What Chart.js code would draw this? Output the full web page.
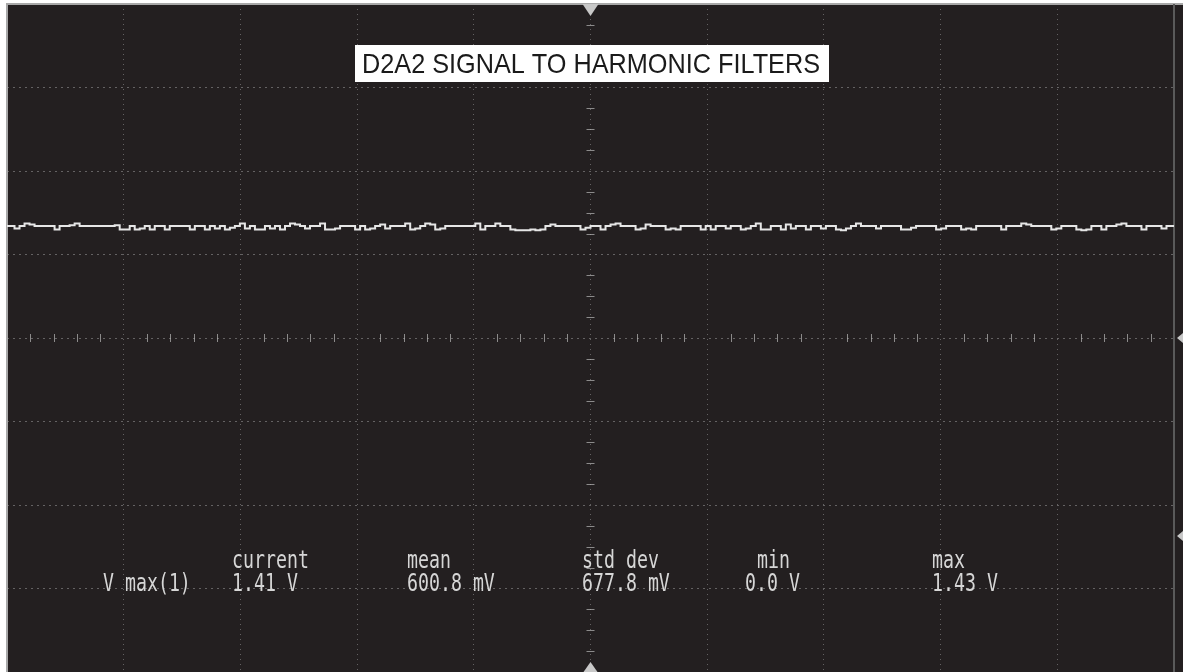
<!DOCTYPE html>
<html>
<head>
<meta charset="utf-8">
<script src="https://cdn.jsdelivr.net/npm/chart.js@4"></script>
<style>
  html, body { margin: 0; padding: 0; background: #ffffff; }
  #wrap { width: 1183px; height: 672px; }
</style>
</head>
<body>
<div id="wrap"><canvas id="scope" width="1183" height="672"></canvas></div>
<script>
// trace samples (divisions above centre), evenly spaced across 10 horizontal divisions
const traceY = [
  1.34, 1.34, 1.31, 1.34, 1.37, 1.36, 1.34, 1.34, 1.34, 1.34,
  1.30, 1.34, 1.34, 1.35, 1.37, 1.34, 1.34, 1.34, 1.34, 1.34,
  1.34, 1.34, 1.35, 1.30, 1.30, 1.34, 1.30, 1.31, 1.34, 1.30,
  1.34, 1.34, 1.30, 1.34, 1.34, 1.34, 1.34, 1.30, 1.34, 1.34,
  1.30, 1.34, 1.31, 1.34, 1.30, 1.32, 1.34, 1.37, 1.31, 1.34,
  1.30, 1.30, 1.34, 1.31, 1.34, 1.30, 1.34, 1.37, 1.36, 1.34,
  1.31, 1.34, 1.34, 1.37, 1.30, 1.30, 1.31, 1.34, 1.34, 1.34,
  1.30, 1.34, 1.30, 1.31, 1.34, 1.36, 1.31, 1.34, 1.34, 1.34,
  1.37, 1.30, 1.31, 1.34, 1.37, 1.36, 1.30, 1.31, 1.34, 1.34,
  1.34, 1.34, 1.34, 1.34, 1.37, 1.30, 1.34, 1.34, 1.37, 1.34,
  1.34, 1.30, 1.29, 1.29, 1.29, 1.30, 1.29, 1.30, 1.34, 1.36,
  1.34, 1.34, 1.34, 1.34, 1.34, 1.30, 1.32, 1.34, 1.34, 1.30,
  1.34, 1.36, 1.37, 1.34, 1.34, 1.34, 1.30, 1.31, 1.36, 1.34,
  1.34, 1.34, 1.30, 1.31, 1.30, 1.34, 1.34, 1.34, 1.34, 1.30,
  1.34, 1.30, 1.34, 1.34, 1.31, 1.34, 1.34, 1.30, 1.31, 1.34,
  1.37, 1.30, 1.30, 1.34, 1.34, 1.30, 1.36, 1.31, 1.34, 1.34,
  1.30, 1.34, 1.34, 1.31, 1.34, 1.34, 1.30, 1.29, 1.31, 1.34,
  1.37, 1.34, 1.34, 1.34, 1.31, 1.34, 1.34, 1.34, 1.34, 1.30,
  1.30, 1.32, 1.34, 1.34, 1.34, 1.34, 1.30, 1.31, 1.34, 1.34,
  1.34, 1.30, 1.31, 1.30, 1.34, 1.34, 1.34, 1.34, 1.34, 1.30,
  1.34, 1.34, 1.34, 1.37, 1.36, 1.34, 1.34, 1.34, 1.34, 1.30,
  1.31, 1.34, 1.34, 1.34, 1.30, 1.29, 1.30, 1.34, 1.34, 1.30,
  1.34, 1.34, 1.36, 1.37, 1.34, 1.34, 1.34, 1.30, 1.34, 1.34,
  1.34, 1.31, 1.34, 1.34
];

const titleText = 'D2A2 SIGNAL TO HARMONIC FILTERS';
const statLabel = 'V max(1)';
const statNames = ['current', 'mean', 'std dev', 'min', 'max'];
const statValues = ['1.41 V', '600.8 mV', '677.8 mV', '0.0 V', '1.43 V'];

// level markers on the right edge (divisions)
const levelMarkers = [0, -2.37];

const H_DIVS = 10;
const V_DIVS = 8;

const tracePoints = traceY.map((v, i) => ({ x: i * H_DIVS / (traceY.length - 1), y: v }));

const BG = '#231f20';
const GRID = 'rgba(165,165,165,0.5)';
const TEXT = '#d6d6d6';

const scopePlugin = {
  id: 'scopeDeco',
  beforeDraw(chart) {
    const ctx = chart.ctx;
    ctx.save();
    ctx.fillStyle = BG;
    ctx.fillRect(6, 4, chart.width - 6, chart.height - 4);
    ctx.restore();
  },
  beforeDatasetsDraw(chart) {
    const ctx = chart.ctx;
    const xs = chart.scales.x, ys = chart.scales.y;
    const a = chart.chartArea;
    const cx = xs.getPixelForValue(H_DIVS / 2);
    const cy = ys.getPixelForValue(0);
    ctx.save();
    ctx.strokeStyle = 'rgba(185,185,185,0.7)';
    ctx.lineWidth = 1;
    ctx.beginPath();
    // minor ticks on the centre vertical line
    for (let v = -V_DIVS / 2; v <= V_DIVS / 2; v += 0.25) {
      if (Number.isInteger(v)) continue;
      const y = Math.round(ys.getPixelForValue(v)) + 0.5;
      ctx.moveTo(cx - 4, y); ctx.lineTo(cx + 4, y);
    }
    // minor ticks on the centre horizontal line
    for (let v = 0; v <= H_DIVS; v += 0.2) {
      const r = Math.round(v * 10) / 10;
      if (Number.isInteger(r)) continue;
      const x = Math.round(xs.getPixelForValue(r)) + 0.5;
      ctx.moveTo(x, cy - 4); ctx.lineTo(x, cy + 4);
    }
    ctx.stroke();

    // frame
    ctx.strokeStyle = '#a8a8a8';
    ctx.lineWidth = 2;
    ctx.beginPath();
    ctx.moveTo(a.left, chart.height); ctx.lineTo(a.left, a.top); ctx.lineTo(chart.width, a.top);
    ctx.stroke();
    ctx.strokeStyle = '#5a5a5a';
    ctx.lineWidth = 2;
    ctx.beginPath();
    ctx.moveTo(a.right, a.top); ctx.lineTo(a.right, chart.height);
    ctx.stroke();
    ctx.restore();
  },
  afterDraw(chart) {
    const ctx = chart.ctx;
    const xs = chart.scales.x, ys = chart.scales.y;
    const a = chart.chartArea;
    const cx = xs.getPixelForValue(H_DIVS / 2);
    ctx.save();

    // trigger position markers
    ctx.fillStyle = '#c8c8c8';
    ctx.beginPath();
    ctx.moveTo(cx - 8, a.top); ctx.lineTo(cx + 8, a.top); ctx.lineTo(cx, a.top + 12);
    ctx.closePath(); ctx.fill();
    ctx.beginPath();
    ctx.moveTo(cx - 7, chart.height); ctx.lineTo(cx + 7, chart.height); ctx.lineTo(cx, chart.height - 10);
    ctx.closePath(); ctx.fill();
    levelMarkers.forEach(v => {
      const y = ys.getPixelForValue(v);
      ctx.beginPath();
      ctx.moveTo(chart.width, y - 5); ctx.lineTo(chart.width - 6, y); ctx.lineTo(chart.width, y + 5);
      ctx.closePath(); ctx.fill();
    });

    // title box
    ctx.fillStyle = '#ffffff';
    ctx.fillRect(355, 45, 474, 37);
    ctx.fillStyle = '#1a1a1a';
    ctx.font = '28px "Liberation Sans", Arial, sans-serif';
    ctx.textBaseline = 'alphabetic';
    const tw = ctx.measureText(titleText).width;
    ctx.save();
    ctx.translate(362, 73);
    ctx.scale(458 / tw, 1);
    ctx.fillText(titleText, 0, 0);
    ctx.restore();

    // measurement readout
    ctx.fillStyle = TEXT;
    ctx.font = '24px "DejaVu Sans Mono", monospace';
    const sx = 0.76;
    const put = (s, x, y) => {
      ctx.save(); ctx.translate(x, y); ctx.scale(sx, 1); ctx.fillText(s, 0, 0); ctx.restore();
    };
    put(statLabel, 103, 591);
    const nameX = [232, 407, 582, 757, 932];
    const valX = [232, 407, 582, 745, 932];
    statNames.forEach((n, i) => {
      put(n, nameX[i], 568);
      put(statValues[i], valX[i], 591);
    });
    ctx.restore();
  }
};

new Chart(document.getElementById('scope'), {
  type: 'line',
  data: {
    datasets: [{
      label: 'D2A2',
      data: tracePoints,
      borderColor: '#e6e6e6',
      borderWidth: 2,
      pointRadius: 0,
      stepped: 'middle',
      fill: false
    }]
  },
  options: {
    responsive: false,
    animation: false,
    events: [],
    layout: { padding: { left: 7, top: 4, right: 9, bottom: 0 } },
    plugins: { legend: { display: false }, tooltip: { enabled: false } },
    scales: {
      x: {
        type: 'linear',
        min: 0, max: H_DIVS,
        ticks: { display: false, stepSize: 1 },
        grid: { color: GRID, lineWidth: 1, drawTicks: false },
        border: { display: false, dash: [1, 4] }
      },
      y: {
        type: 'linear',
        min: -V_DIVS / 2, max: V_DIVS / 2,
        ticks: { display: false, stepSize: 1 },
        grid: { color: GRID, lineWidth: 1, drawTicks: false },
        border: { display: false, dash: [2, 4] }
      }
    }
  },
  plugins: [scopePlugin]
});
</script>
</body>
</html>
